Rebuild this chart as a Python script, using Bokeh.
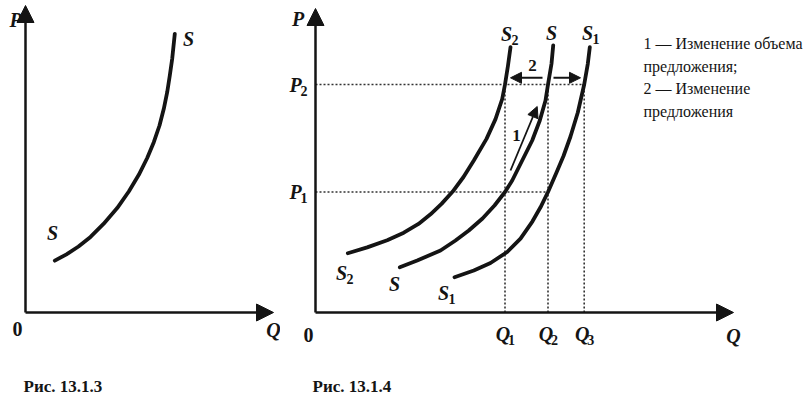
from bokeh.plotting import figure
from bokeh.layouts import row
from bokeh.models import Range1d, Arrow, NormalHead
from bokeh.core.properties import value
from bokeh.embed import file_html
from bokeh.resources import INLINE

# ---------------- data (quantity Q, price P in arbitrary units) ----------------
# Рис. 13.1.3 : single supply curve S
left_s_q = [2.93, 4.1, 5.3, 6.5, 7.8, 9.17, 10.33, 11.33, 12.17, 12.83, 13.4, 13.83, 14.17, 14.43, 14.67, 14.93]
left_s_p = [5.18, 5.82, 6.6, 7.56, 8.86, 10.44, 12.1, 13.77, 15.45, 17.03, 18.7, 20.37, 22.03, 23.7, 25.37, 27.87]

# Рис. 13.1.4 : supply curves S2, S, S1
s2_q = [3.23, 5.17, 7.17, 8.83, 10.3, 11.5, 12.6, 13.7, 14.8, 15.83, 17.1, 18.0, 18.67, 18.95, 19.25, 19.5]
s2_p = [5.93, 6.51, 7.23, 7.98, 8.86, 9.82, 10.86, 12.07, 13.55, 15.2, 17.36, 19.34, 21.35, 22.8, 24.7, 26.53]
s_q = [8.43, 10.17, 12.5, 14.0, 15.33, 16.7, 17.9, 18.95, 19.67, 20.67, 21.67, 22.43, 23.0, 23.25, 23.6, 23.77]
s_p = [4.53, 5.2, 6.2, 7.2, 8.2, 9.4, 10.7, 12.05, 13.2, 15.2, 17.2, 19.2, 21.2, 22.8, 24.87, 26.7]
s1_q = [13.9, 15.83, 17.5, 19.17, 20.5, 21.7, 22.5, 23.25, 24.1, 24.8, 25.5, 26.23, 26.87, 27.23, 27.43]
s1_p = [3.53, 4.2, 4.95, 6.05, 7.38, 9.12, 10.52, 12.05, 14.0, 15.65, 17.6, 20.0, 22.8, 24.87, 26.53]

price_names = ["P1", "P2"]
price_levels = [12.05, 22.8]
qty_names = ["Q1", "Q2", "Q3"]
qty_levels = [18.95, 23.25, 26.87]

legend_lines = ["1 — Изменение объема", "предложения;", "2 — Изменение", "предложения"]
captions = ["Рис. 13.1.3", "Рис. 13.1.4"]

# ---------------- style ----------------
INK = "#141414"
SERIF = "'Liberation Serif', 'DejaVu Serif', serif"
Y_RANGE = (-8.7, 31.2)


def make_fig(width, x0, x1):
    p = figure(width=width, height=399, x_range=Range1d(x0, x1), y_range=Range1d(*Y_RANGE),
               output_backend="svg", toolbar_location=None, x_axis_type=None, y_axis_type=None,
               min_border=0, outline_line_color=None, background_fill_color="white",
               border_fill_color="white")
    p.xgrid.visible = False
    p.ygrid.visible = False
    return p


def put(p, x, y, txt, size="20px", style="bold italic", align="center", baseline="middle", xo=0, yo=0):
    p.text(x=[x], y=[y], text=[txt], text_font=value(SERIF), text_font_size=size,
           text_font_style=style, text_align=align, text_baseline=baseline,
           x_offset=xo, y_offset=yo, text_color=INK)


def put_sub(p, x, y, main, sub, xo=0):
    put(p, x, y, main, xo=xo)
    put(p, x, y, sub, size="14px", style="bold", align="left", xo=xo + 5, yo=6)


def axes(p, qmax, pmax):
    for x1, y1 in [(0, pmax), (qmax, 0)]:
        p.add_layout(Arrow(x_start=0, y_start=0, x_end=x1, y_end=y1, line_width=2.5, line_color=INK,
                           end=NormalHead(size=17, fill_color=INK, line_color=INK, line_width=1)))


CURVE = dict(line_width=3.8, line_color=INK, line_cap="round", line_join="round")

# ---------------- Рис. 13.1.3 ----------------
f1 = make_fig(280, -2.5, 25.5)
axes(f1, 24.8, 30.7)
f1.line(left_s_q, left_s_p, **CURVE)
put(f1, -1.0, 29.3, "P")
put(f1, -0.8, -1.6, "0", style="bold")
put(f1, 24.8, -1.7, "Q")
put(f1, 2.7, 8.0, "S")
put(f1, 16.3, 27.4, "S")
put(f1, -0.2, -7.4, captions[0], size="17px", style="bold", align="left")

# ---------------- Рис. 13.1.4 ----------------
f2 = make_fig(530, -3.5, 49.5)
axes(f2, 41.8, 30.4)

# dotted guides
p1, p2 = price_levels
q1, q2, q3 = qty_levels
guide = dict(line_width=1.6, line_color="#333333", line_dash="2 2")
f2.line([0, q2], [p1, p1], **guide)
f2.line([0, q3], [p2, p2], **guide)
for q in qty_levels:
    f2.line([q, q], [0, p2], **guide)

for qs, ps in [(s2_q, s2_p), (s_q, s_p), (s1_q, s1_p)]:
    f2.line(qs, ps, **CURVE)

# arrow 1 (movement along S) and arrows 2 (shift of S)
f2.add_layout(Arrow(x_start=19.5, y_start=14.2, x_end=22.17, y_end=20.6, line_width=1.8, line_color=INK,
                    end=NormalHead(size=11, fill_color=INK, line_color=INK)))
f2.add_layout(Arrow(x_start=22.7, y_start=23.47, x_end=19.5, y_end=23.47, line_width=2, line_color=INK,
                    end=NormalHead(size=11, fill_color=INK, line_color=INK)))
f2.add_layout(Arrow(x_start=23.8, y_start=23.47, x_end=26.5, y_end=23.47, line_width=2, line_color=INK,
                    end=NormalHead(size=11, fill_color=INK, line_color=INK)))
put(f2, 20.1, 17.7, "1", size="17px", style="bold")
put(f2, 21.7, 24.7, "2", size="17px", style="bold")

put(f2, -1.73, 29.4, "P")
put(f2, -0.7, -2.2, "0", style="bold")
put(f2, 41.8, -2.3, "Q")
for name, lvl in zip(price_names, price_levels):
    put_sub(f2, -2.0, lvl, name[0], name[1])
for name, lvl in zip(qty_names, qty_levels):
    put_sub(f2, lvl, -2.1, name[0], name[1], xo=-2)

put_sub(f2, 19.1, 27.9, "S", "2")
put(f2, 23.6, 28.0, "S")
put_sub(f2, 27.2, 28.0, "S", "1")
put_sub(f2, 2.6, 4.0, "S", "2")
put(f2, 7.9, 2.9, "S")
put_sub(f2, 12.8, 2.0, "S", "1")

for txt, yy in zip(legend_lines, [26.9, 24.6, 22.4, 20.1]):
    put(f2, 32.8, yy, txt, size="16px", style="normal", align="left")

put(f2, -0.3, -7.4, captions[1], size="17px", style="bold", align="left")

layout = row(f1, f2)
open("out.html", "w").write(file_html(layout, INLINE))
